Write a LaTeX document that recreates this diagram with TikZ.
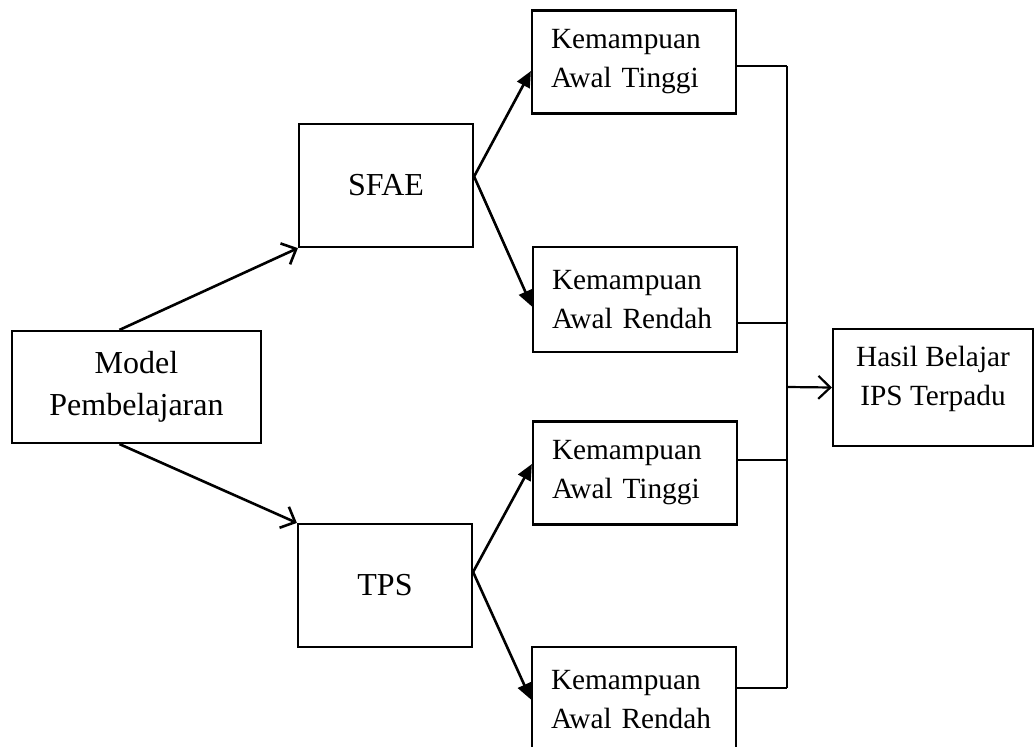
\documentclass[tikz,border=0pt]{standalone}
\usepackage{fontspec}
\setmainfont{Liberation Serif}
\usetikzlibrary{arrows.meta}

\begin{document}
\begin{tikzpicture}[x=1pt, y=-1pt,
  mainbox/.style={draw, line width=2.2pt, align=center, inner sep=0pt,
    font=\fontsize{32}{42}\selectfont},
  kembox/.style={draw, line width=2.2pt, minimum width=204pt, minimum height=103pt,
    text width=166pt, inner xsep=19pt, inner ysep=0pt, align=left,
    font=\fontsize{29.3}{39}\selectfont},
  openarrow/.style={line width=2.6pt, -{Straight Barb[length=12pt,width=23pt]}},
  fillarrow/.style={line width=2.6pt, -{Triangle[length=16pt,width=14pt]}},
  busline/.style={line width=2pt}]

\useasboundingbox (0,0) rectangle (1034,747);

\node[mainbox, minimum width=249pt, minimum height=112pt] (model) at (136.5,387) {Model\\Pembelajaran};
\node[mainbox, minimum width=174pt, minimum height=123pt] (sfae) at (386,185.5) {SFAE};
\node[mainbox, minimum width=174pt, minimum height=123pt] (tps) at (385,585.5) {TPS};

\node[kembox] (kat1) at (634,62) {Kemampuan\\Awal Tinggi};
\node[kembox, minimum height=105pt] (kar1) at (635,299.5) {Kemampuan\\Awal Rendah};
\node[kembox] (kat2) at (635,473) {Kemampuan\\Awal Tinggi};
\node[kembox, minimum height=105pt] (kar2) at (634,699.5) {Kemampuan\\Awal Rendah};

\node[draw, line width=2.2pt, minimum width=200pt, minimum height=117pt] (hasil) at (933,387.5) {};
\node[align=center, inner sep=0pt, font=\fontsize{29.3}{39}\selectfont] (hasiltext) at ([yshift=9pt]hasil.center) {Hasil Belajar\\IPS Terpadu};

% model -> sfae / tps
\draw[openarrow] ([xshift=-17pt]model.north) -- (sfae.south west);
\draw[openarrow] ([xshift=-17pt]model.south) -- (tps.north west);

% branches
\draw[fillarrow] ([yshift=9pt]sfae.east) -- ([yshift=-9pt]kat1.west);
\draw[fillarrow] ([yshift=9pt]sfae.east) -- ([yshift=-7pt]kar1.west);
\draw[fillarrow] ([yshift=13.5pt]tps.east) -- ([yshift=9pt]kat2.west);
\draw[fillarrow] ([yshift=13.5pt]tps.east) -- (kar2.west);

% bus to hasil
\coordinate (j1) at (787,66);
\coordinate (j2) at (787,323);
\coordinate (j3) at (787,460);
\coordinate (j4) at (787,688);
\coordinate (jout) at (787,387);
\draw[busline] (kat1.east |- j1) -- (j1);
\draw[busline] (kar1.east |- j2) -- (j2);
\draw[busline] (kat2.east |- j3) -- (j3);
\draw[busline] (kar2.east |- j4) -- (j4);
\draw[busline] (j1) -- (j4);
\draw[openarrow, line width=2.2pt] (jout) -- (hasil.west);
\end{tikzpicture}
\end{document}
